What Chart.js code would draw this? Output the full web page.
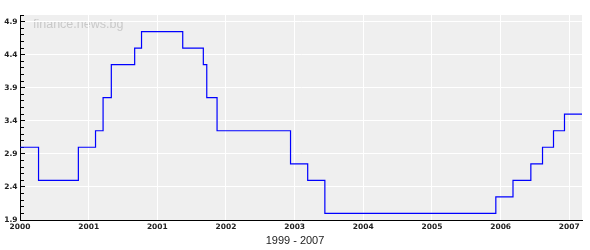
<!DOCTYPE html>
<html>
<head>
<meta charset="utf-8">
<script src="https://cdn.jsdelivr.net/npm/chart.js@4/dist/chart.umd.min.js"></script>
<style>
html,body{margin:0;padding:0;background:#fff;}
#c{display:block;}
</style>
</head>
<body>
<canvas id="c" width="590" height="250"></canvas>
<script>
// Dates of each rate change (fractional years) and the new rate from that date
const changeDates = [1999.0, 1999.27, 1999.85, 2000.10, 2000.21, 2000.33, 2000.67, 2000.77,
  2001.37, 2001.67, 2001.72, 2001.87, 2002.94, 2003.19, 2003.44,
  2005.93, 2006.18, 2006.44, 2006.61, 2006.77, 2006.93, 2007.185];
const rates = [3.0, 2.5, 3.0, 3.25, 3.75, 4.25, 4.5, 4.75,
  4.5, 4.25, 3.75, 3.25, 2.75, 2.5, 2.0,
  2.25, 2.5, 2.75, 3.0, 3.25, 3.5, 3.5];
// x tick positions (start of each year) and their printed labels
const xTickYears = [1999, 2000, 2001, 2002, 2003, 2004, 2005, 2006, 2007];
const xTickLabels = ["2000", "2001", "2001", "2002", "2003", "2004", "2005", "2006", "2007"];
// y major ticks
const yMajorTicks = [1.9, 2.4, 2.9, 3.4, 3.9, 4.4, 4.9];
const yMin = 1.9, yMax = 5.0, yMinorStep = 0.1;
const watermark = "finance.news.bg";
const titleText = "1999 - 2007";

const points = changeDates.map((d, i) => ({x: d, y: rates[i]}));

const tickFont = {family: 'DejaVu Sans', size: 7.5, weight: 'bold'};

const bgPlugin = {
  id: 'bg',
  beforeDraw(chart) {
    const {ctx, chartArea: a} = chart;
    ctx.save();
    ctx.fillStyle = '#efefef';
    ctx.fillRect(a.left, a.top, a.right - a.left, a.bottom - a.top);
    ctx.font = '12.5px "Liberation Sans", Arial, sans-serif';
    ctx.fillStyle = '#c9c9c9';
    ctx.textBaseline = 'alphabetic';
    ctx.textAlign = 'left';
    ctx.fillText(watermark, a.left + 13, a.top + 12.5);
    ctx.restore();
  }
};

new Chart(document.getElementById('c'), {
  type: 'line',
  data: {
    datasets: [{
      data: points,
      stepped: true,
      borderColor: '#0000ff',
      borderWidth: 1.2,
      pointRadius: 0,
      fill: false
    }]
  },
  options: {
    responsive: false,
    animation: false,
    devicePixelRatio: 1,
    layout: {padding: {left: 0, right: 0, top: 15, bottom: 0}},
    plugins: {
      legend: {display: false},
      tooltip: {enabled: false},
      title: {
        display: true,
        position: 'bottom',
        text: titleText,
        color: '#222',
        font: {family: 'Liberation Sans', size: 11, weight: 'normal'},
        padding: {top: 0, bottom: 2}
      }
    },
    scales: {
      x: {
        type: 'linear',
        min: 1999,
        max: 2007.185,
        afterBuildTicks(s) { s.ticks = xTickYears.map(v => ({value: v})); },
        afterFit(s) { s.height = 14.8; },
        ticks: {
          color: '#222',
          font: tickFont,
          padding: 2.5,
          maxRotation: 0,
          autoSkip: false,
          callback: (v, i) => xTickLabels[i]
        },
        grid: {
          drawTicks: false,
          color: (c) => c.index === 0 ? 'rgba(0,0,0,0)' : '#ffffff',
          lineWidth: 1
        },
        border: {display: true, color: '#000', width: 1}
      },
      y: {
        type: 'linear',
        position: 'left',
        weight: 1,
        min: yMin,
        max: yMax,
        afterBuildTicks(s) { s.ticks = yMajorTicks.map(v => ({value: v})); },
        afterFit(s) { s.width = 20; },
        ticks: {
          color: '#222',
          font: tickFont,
          padding: 7.5,
          autoSkip: false,
          callback: (v) => Number(v).toFixed(1)
        },
        grid: {
          drawTicks: true,
          tickLength: -5,
          tickColor: '#000',
          color: (c) => c.index === 0 ? 'rgba(0,0,0,0)' : '#ffffff',
          lineWidth: 1
        },
        border: {display: true, color: '#000', width: 1}
      },
      yMinor: {
        type: 'linear',
        position: 'left',
        weight: 0,
        min: yMin,
        max: yMax,
        afterBuildTicks(s) {
          const t = [];
          const n = Math.round((yMax - yMin) / yMinorStep);
          for (let k = 0; k <= n; k++) {
            if (k % 5 !== 0) t.push({value: +(yMin + k * yMinorStep).toFixed(2)});
          }
          s.ticks = t;
        },
        afterFit(s) { s.width = 0; },
        ticks: {display: false},
        grid: {
          drawOnChartArea: false,
          drawTicks: true,
          tickLength: -4,
          tickColor: '#000'
        },
        border: {display: false}
      },
      rightPad: {
        type: 'linear',
        position: 'right',
        min: 0,
        max: 1,
        afterFit(s) { s.width = 8; },
        ticks: {display: false},
        grid: {display: false, drawTicks: false},
        border: {display: false}
      }
    }
  },
  plugins: [bgPlugin]
});
</script>
</body>
</html>
